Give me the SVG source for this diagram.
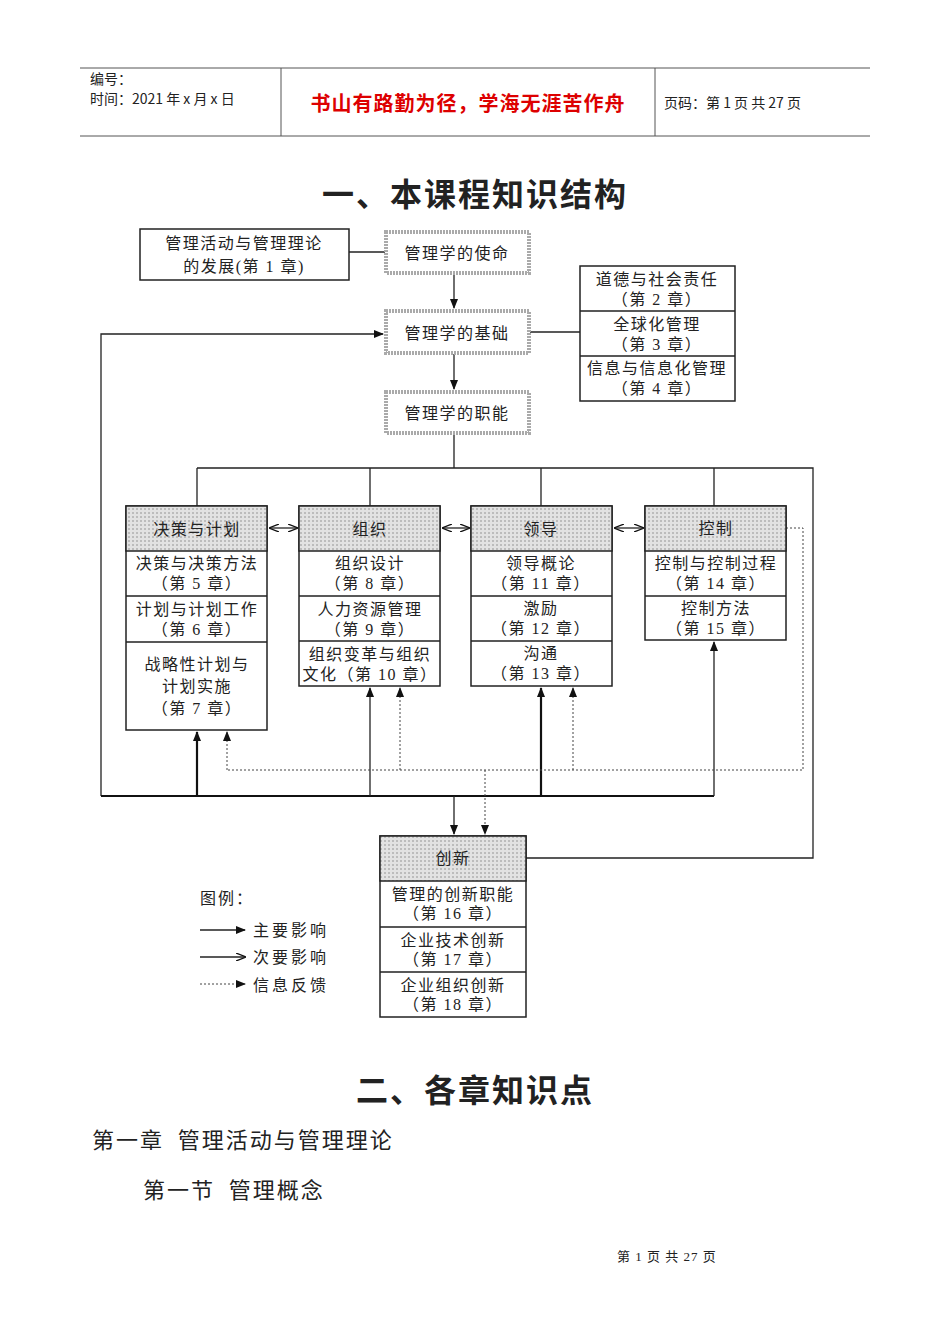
<svg xmlns="http://www.w3.org/2000/svg" width="950" height="1344" viewBox="0 0 950 1344">
<style>
text{font-family:"Liberation Serif","Noto Sans CJK SC",serif;fill:#222}
.t{font-size:16px;text-anchor:middle;letter-spacing:1.5px}
.h{font-family:"Noto Sans CJK SC",sans-serif}
.b{fill:#fff;stroke:#222;stroke-width:1.5}
.g{fill:url(#dots);stroke:#222;stroke-width:1.5}
.s{fill:#fff;stroke:#aaa;stroke-width:4;stroke-dasharray:2 1}
.l{fill:none;stroke:#222;stroke-width:1.3}
.k{fill:none;stroke:#111;stroke-width:2.2}
.d{fill:none;stroke:#444;stroke-width:1;stroke-dasharray:2 2}
</style>
<defs>
<pattern id="dots" width="4" height="4" patternUnits="userSpaceOnUse"><rect width="4" height="4" fill="#e2e2e2"/><rect width="2" height="2" fill="#bcbcbc"/></pattern>
<marker id="a" markerWidth="10" markerHeight="8" refX="9" refY="4" orient="auto" markerUnits="userSpaceOnUse"><path d="M0,0 L10,4 L0,8 Z" fill="#111"/></marker>
<marker id="o" markerWidth="10" markerHeight="8" refX="9" refY="4" orient="auto" markerUnits="userSpaceOnUse"><path d="M0,0 L10,4 L0,8" fill="none" stroke="#111" stroke-width="1.3"/></marker>
<marker id="os" markerWidth="10" markerHeight="8" refX="1" refY="4" orient="auto" markerUnits="userSpaceOnUse"><path d="M10,0 L0,4 L10,8" fill="none" stroke="#111" stroke-width="1.3"/></marker>
</defs>
<g id="header">
<path d="M80 68H870M80 136H870M281 68V136M655 68V136" stroke="#555" stroke-width="1"/>
<text x="90" y="84" class="h" font-size="14">编号：</text>
<text x="90" y="104" class="h" font-size="14">时间：2021 年 x 月 x 日</text>
<text x="468" y="111" class="h" font-size="20" font-weight="bold" text-anchor="middle" letter-spacing="1" style="fill:#d00">书山有路勤为径，学海无涯苦作舟</text>
<text x="664" y="108" class="h" font-size="14">页码：第 1 页  共 27 页</text>
</g>
<text x="475" y="206" class="h" font-size="32" font-weight="bold" text-anchor="middle" letter-spacing="2">一、本课程知识结构</text>
<g id="connectors">
<path class="l" d="M349 252H385"/>
<path class="l" d="M454 273V308" marker-end="url(#a)"/>
<path class="l" d="M454 354V389" marker-end="url(#a)"/>
<path class="l" d="M530 332H580"/>
<path class="l" d="M101 796V334H383" marker-end="url(#a)"/>
<path class="l" d="M454 434V468M197 468H813V858H526M197 468V506M370 468V506M541 468V506M714 468V506"/>
<path class="l" d="M270 528H297" marker-start="url(#os)" marker-end="url(#o)"/>
<path class="l" d="M443 528H469" marker-start="url(#os)" marker-end="url(#o)"/>
<path class="l" d="M615 528H643" marker-start="url(#os)" marker-end="url(#o)"/>
<path class="k" d="M101 796H714"/>
<path class="k" d="M197 796V732" marker-end="url(#a)"/>
<path class="l" d="M370 796V688" marker-end="url(#a)"/>
<path class="k" d="M541 796V688" marker-end="url(#a)"/>
<path class="l" d="M714 796V642" marker-end="url(#a)"/>
<path class="l" d="M454 796V834" marker-end="url(#a)"/>
<path class="d" d="M786 528H803V770H227"/>
<path class="d" d="M227 770V732" marker-end="url(#a)"/>
<path class="d" d="M400 770V688" marker-end="url(#a)"/>
<path class="d" d="M573 770V688" marker-end="url(#a)"/>
<path class="d" d="M485 770V834" marker-end="url(#a)"/>
</g>
<g id="n-ch1"><rect class="b" x="140" y="229" width="209" height="51"/><text class="t" x="244" y="249">管理活动与管理理论</text><text class="t" x="244" y="272">的发展(第 1 章)</text></g>
<g id="n-mission"><rect class="s" x="386" y="232" width="143" height="41"/><text class="t" x="457" y="259">管理学的使命</text></g>
<g id="n-base"><rect class="s" x="386" y="311" width="143" height="42"/><text class="t" x="457" y="339">管理学的基础</text></g>
<g id="n-func"><rect class="s" x="386" y="392" width="143" height="41"/><text class="t" x="457" y="419">管理学的职能</text></g>
<g id="n-right"><rect class="b" x="580" y="266" width="155" height="135"/><path class="l" d="M580 311H735M580 356H735"/>
<text class="t" x="657" y="285">道德与社会责任</text><text class="t" x="657" y="305">（第 2 章）</text>
<text class="t" x="657" y="330">全球化管理</text><text class="t" x="657" y="350">（第 3 章）</text>
<text class="t" x="657" y="374" letter-spacing="0.5">信息与信息化管理</text><text class="t" x="657" y="394">（第 4 章）</text></g>
<g id="n-plan"><rect class="b" x="126" y="506" width="141" height="224"/><rect class="g" x="126" y="506" width="141" height="45"/><path class="l" d="M126 596H267M126 642H267"/>
<text class="t" x="197" y="535">决策与计划</text>
<text class="t" x="197" y="569">决策与决策方法</text><text class="t" x="197" y="589">（第 5 章）</text>
<text class="t" x="197" y="615">计划与计划工作</text><text class="t" x="197" y="635">（第 6 章）</text>
<text class="t" x="197" y="670">战略性计划与</text><text class="t" x="197" y="692">计划实施</text><text class="t" x="197" y="714">（第 7 章）</text></g>
<g id="n-org"><rect class="b" x="299" y="506" width="141" height="180"/><rect class="g" x="299" y="506" width="141" height="45"/><path class="l" d="M299 596H440M299 641H440"/>
<text class="t" x="370" y="535">组织</text>
<text class="t" x="370" y="569">组织设计</text><text class="t" x="370" y="589">（第 8 章）</text>
<text class="t" x="370" y="615">人力资源管理</text><text class="t" x="370" y="635">（第 9 章）</text>
<text class="t" x="370" y="660">组织变革与组织</text><text class="t" x="370" y="680">文化（第 10 章）</text></g>
<g id="n-lead"><rect class="b" x="471" y="506" width="141" height="180"/><rect class="g" x="471" y="506" width="141" height="45"/><path class="l" d="M471 596H612M471 641H612"/>
<text class="t" x="541" y="535">领导</text>
<text class="t" x="541" y="569">领导概论</text><text class="t" x="541" y="589">（第 11 章）</text>
<text class="t" x="541" y="614">激励</text><text class="t" x="541" y="634">（第 12 章）</text>
<text class="t" x="541" y="659">沟通</text><text class="t" x="541" y="679">（第 13 章）</text></g>
<g id="n-ctrl"><rect class="b" x="645" y="506" width="141" height="134"/><rect class="g" x="645" y="506" width="141" height="45"/><path class="l" d="M645 596H786"/>
<text class="t" x="716" y="534">控制</text>
<text class="t" x="716" y="569">控制与控制过程</text><text class="t" x="716" y="589">（第 14 章）</text>
<text class="t" x="716" y="614">控制方法</text><text class="t" x="716" y="634">（第 15 章）</text></g>
<g id="n-innov"><rect class="b" x="380" y="836" width="146" height="181"/><rect class="g" x="380" y="836" width="146" height="45"/><path class="l" d="M380 927H526M380 972H526"/>
<text class="t" x="453" y="864">创新</text>
<text class="t" x="453" y="900">管理的创新职能</text><text class="t" x="453" y="919">（第 16 章）</text>
<text class="t" x="453" y="946">企业技术创新</text><text class="t" x="453" y="965">（第 17 章）</text>
<text class="t" x="453" y="991">企业组织创新</text><text class="t" x="453" y="1010">（第 18 章）</text></g>
<g id="legend">
<text x="200" y="904" font-size="16" letter-spacing="2">图例：</text>
<path class="l" d="M200 930H245" marker-end="url(#a)"/><text x="253" y="936" font-size="16" letter-spacing="3">主要影响</text>
<path class="l" d="M200 957H245" marker-end="url(#o)"/><text x="253" y="963" font-size="16" letter-spacing="3">次要影响</text>
<path class="d" d="M200 984H245" marker-end="url(#a)"/><text x="253" y="991" font-size="16" letter-spacing="3">信息反馈</text>
</g>
<text x="475" y="1102" class="h" font-size="32" font-weight="bold" text-anchor="middle" letter-spacing="2">二、各章知识点</text>
<text x="92" y="1148" class="h" font-size="22" letter-spacing="2" xml:space="preserve">第一章  管理活动与管理理论</text>
<text x="143" y="1198" class="h" font-size="22" letter-spacing="2" xml:space="preserve">第一节  管理概念</text>
<text x="617" y="1261" font-size="13" letter-spacing="1" xml:space="preserve">第 1 页 共 27 页</text>
</svg>
